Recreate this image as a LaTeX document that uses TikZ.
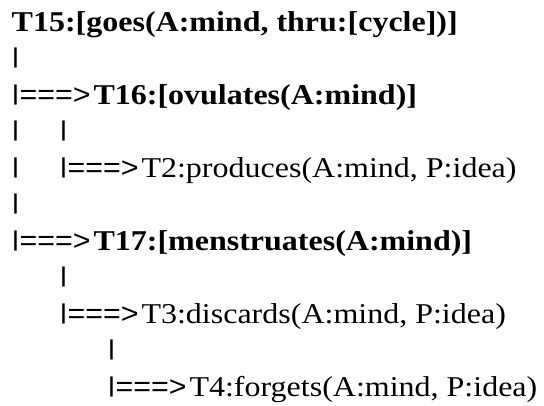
\documentclass[tikz,border=0pt]{standalone}
\usepackage{fontspec}
\setmainfont[FakeStretch=1.115]{Liberation Serif}
\newfontfamily\barfont[FakeStretch=1.06]{Liberation Sans}
\usetikzlibrary{positioning}

% bar and arrow glyphs of the tree
\newcommand{\vb}{{\barfont\raisebox{0.16em}{\scalebox{1}[0.75]{|}}}}
\newcommand{\arr}{{\barfont\vb===>}\hspace{0.1em}}

\begin{document}
\begin{tikzpicture}[x=1pt, y=1pt,
                    row/.style={anchor=base west, inner sep=0pt,
                                font=\fontsize{28.7}{36.5}\selectfont}]
\useasboundingbox (0,0) rectangle (544,406);
% root
\node[row] (t15) at (11.5,374)   {\textbf{T15:[goes(A:mind, thru:[cycle])]}};
\node[row] (b2)  at (11.5,337.5) {\vb};
% first branch
\node[row] (t16) at (11.5,301)   {\arr\textbf{T16:[ovulates(A:mind)]}};
\node[row] (b4a) at (11.5,264.5) {\vb};
\node[row] (b4b) at (59.5,264.5) {\vb};
\node[row] (b5)  at (11.5,228)   {\vb};
\node[row] (t2)  at (59.5,228)   {\arr T2:produces(A:mind, P:idea)};
\node[row] (b6)  at (11.5,191.5) {\vb};
% second branch
\node[row] (t17) at (11.5,155)   {\arr\textbf{T17:[menstruates(A:mind)]}};
\node[row] (b8)  at (59.5,118.5) {\vb};
\node[row] (t3)  at (59.5,82)    {\arr T3:discards(A:mind, P:idea)};
\node[row] (b10) at (107.5,45.5) {\vb};
\node[row] (t4)  at (107.5,9)    {\arr T4:forgets(A:mind, P:idea)};
\end{tikzpicture}
\end{document}
